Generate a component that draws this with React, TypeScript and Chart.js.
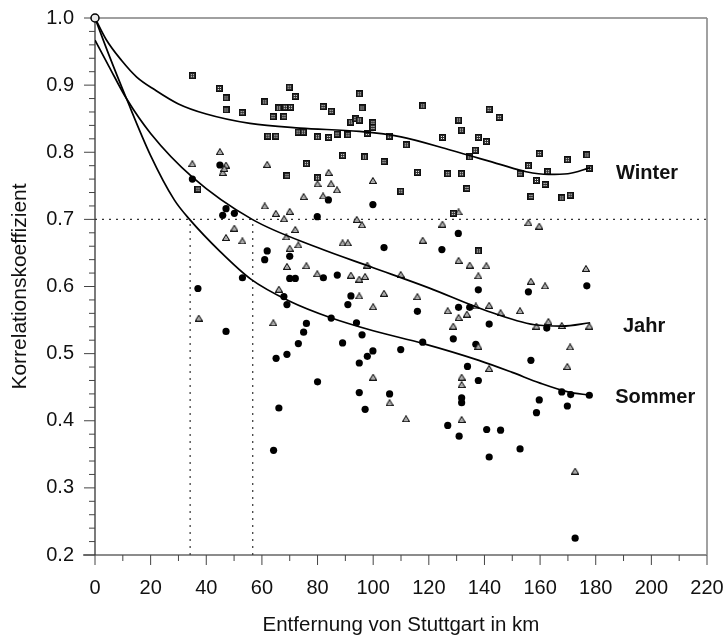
import React, { useEffect, useRef } from 'react';
import { Chart, registerables } from 'chart.js';

Chart.register(...registerables);

// ---- scatter data: distance from Stuttgart (km) and correlation coefficient ----
const winterKm = [35.0, 44.7, 47.1, 47.1, 52.9, 37.0, 69.8, 72.0, 61.0, 66.0, 68.4, 70.3, 64.0, 67.9, 82.0, 84.9, 95.0, 96.0, 91.9, 93.8, 95.0, 99.9, 99.9, 62.1, 65.0, 73.0, 74.9, 80.0, 84.0, 87.0, 90.9, 97.9, 105.8, 111.9, 117.8, 124.9, 130.7, 131.7, 137.8, 140.7, 141.7, 145.3, 136.7, 134.7, 89.0, 96.9, 103.9, 76.0, 69.0, 80.0, 115.9, 126.8, 131.7, 133.7, 109.9, 128.8, 159.7, 155.8, 152.8, 162.7, 158.7, 161.8, 156.7, 167.8, 170.8, 169.8, 176.8, 177.7, 137.8];
const winterR = [0.914, 0.895, 0.881, 0.863, 0.859, 0.745, 0.897, 0.883, 0.875, 0.866, 0.867, 0.867, 0.853, 0.853, 0.868, 0.861, 0.887, 0.866, 0.845, 0.850, 0.848, 0.844, 0.837, 0.824, 0.824, 0.830, 0.830, 0.823, 0.822, 0.827, 0.826, 0.828, 0.824, 0.811, 0.869, 0.822, 0.848, 0.833, 0.822, 0.816, 0.864, 0.852, 0.803, 0.793, 0.795, 0.793, 0.786, 0.783, 0.765, 0.762, 0.770, 0.768, 0.768, 0.746, 0.742, 0.709, 0.798, 0.780, 0.768, 0.771, 0.758, 0.752, 0.734, 0.732, 0.736, 0.789, 0.796, 0.776, 0.653];

const jahrKm = [35.0, 44.9, 47.1, 45.9, 46.5, 61.9, 84.0, 80.0, 84.9, 87.0, 99.9, 75.0, 82.0, 61.0, 65.0, 70.0, 68.0, 94.1, 130.7, 155.8, 159.7, 50.1, 47.1, 53.0, 37.3, 96.0, 72.0, 68.8, 73.1, 70.0, 89.0, 90.9, 117.8, 124.9, 69.0, 76.0, 79.9, 92.0, 95.0, 97.1, 97.9, 109.9, 66.1, 95.0, 103.9, 100.0, 115.9, 126.8, 130.7, 134.7, 140.7, 137.8, 136.9, 141.7, 133.7, 130.7, 128.8, 137.8, 141.7, 64.1, 100.0, 105.9, 131.8, 131.8, 111.8, 131.8, 176.5, 156.7, 161.8, 145.8, 152.8, 158.7, 163.0, 167.8, 177.7, 170.8, 169.8, 172.6];
const jahrR = [0.783, 0.801, 0.781, 0.770, 0.776, 0.782, 0.770, 0.753, 0.753, 0.744, 0.758, 0.734, 0.735, 0.720, 0.709, 0.712, 0.701, 0.700, 0.711, 0.695, 0.690, 0.687, 0.673, 0.668, 0.553, 0.692, 0.685, 0.674, 0.662, 0.657, 0.665, 0.665, 0.669, 0.693, 0.630, 0.631, 0.619, 0.617, 0.611, 0.615, 0.632, 0.618, 0.596, 0.586, 0.590, 0.570, 0.585, 0.564, 0.639, 0.632, 0.631, 0.616, 0.571, 0.572, 0.559, 0.554, 0.541, 0.511, 0.478, 0.546, 0.465, 0.427, 0.465, 0.454, 0.403, 0.402, 0.627, 0.608, 0.601, 0.561, 0.564, 0.541, 0.548, 0.542, 0.541, 0.510, 0.481, 0.325];

const sommerKm = [35.0, 44.9, 45.9, 47.1, 50.1, 53.0, 37.0, 47.1, 83.9, 99.9, 79.9, 130.6, 103.9, 124.7, 61.9, 61.0, 70.0, 70.0, 72.0, 82.1, 87.1, 137.8, 92.0, 90.9, 67.9, 69.0, 115.9, 130.7, 134.7, 141.7, 84.9, 94.0, 76.0, 75.0, 96.0, 73.1, 89.0, 117.8, 128.8, 136.9, 99.9, 109.9, 97.9, 95.0, 69.0, 65.1, 133.9, 137.8, 80.0, 95.0, 105.9, 97.1, 66.1, 131.8, 131.8, 176.8, 155.8, 162.4, 156.7, 167.8, 171.0, 177.7, 159.7, 169.8, 158.7, 140.8, 145.8, 152.8, 64.2, 126.8, 130.9, 141.7, 172.6];
const sommerR = [0.760, 0.781, 0.706, 0.716, 0.709, 0.613, 0.597, 0.533, 0.729, 0.722, 0.704, 0.679, 0.658, 0.655, 0.653, 0.640, 0.645, 0.612, 0.612, 0.613, 0.617, 0.595, 0.586, 0.573, 0.585, 0.573, 0.563, 0.569, 0.569, 0.544, 0.553, 0.546, 0.545, 0.532, 0.528, 0.515, 0.516, 0.517, 0.522, 0.514, 0.504, 0.506, 0.496, 0.486, 0.499, 0.493, 0.481, 0.460, 0.458, 0.442, 0.440, 0.417, 0.419, 0.434, 0.427, 0.601, 0.592, 0.538, 0.490, 0.443, 0.439, 0.438, 0.431, 0.422, 0.412, 0.387, 0.386, 0.358, 0.356, 0.393, 0.377, 0.346, 0.225];

// ---- fitted curves ----
const winterCurveKm = [0, 4, 9.5, 15, 21.5, 30, 40, 55.7, 73.7, 95, 110, 128, 145.6, 155, 163, 170, 178];
const winterCurveR = [1.0, 0.968, 0.937, 0.912, 0.893, 0.872, 0.857, 0.843, 0.836, 0.831, 0.823, 0.803, 0.782, 0.771, 0.767, 0.768, 0.777];
const jahrCurveKm = [0, 5, 11.3, 20, 35, 56.5, 80, 100, 120, 140, 158, 168, 178];
const jahrCurveR = [0.967, 0.928, 0.880, 0.828, 0.763, 0.700, 0.658, 0.628, 0.598, 0.565, 0.543, 0.541, 0.546];
const sommerCurveKm = [0, 5, 11.3, 20, 28.5, 34, 45, 56, 70, 85, 100, 118, 138, 150, 160, 170, 178];
const sommerCurveR = [1.0, 0.945, 0.880, 0.795, 0.729, 0.700, 0.652, 0.611, 0.578, 0.553, 0.534, 0.515, 0.490, 0.472, 0.456, 0.443, 0.438];

// ---- reference values ----
const threshold = 0.7;
const sommerCrossKm = 34.2;
const jahrCrossKm = 56.7;
const originKm = 0;
const originR = 1.0;

const curveNames = ['Winter', 'Jahr', 'Sommer'];
const xTicksMax = 220;
const yTickMin = 0.2;
const yTickMax = 1.0;

const toPts = (xs: number[], ys: number[]) => xs.map((x, i) => ({ x, y: ys[i] }));

function fontAvailable(name: string): boolean {
  const c = document.createElement('canvas').getContext('2d');
  if (!c) return false;
  const t = 'Entfernung von Stuttgart in km';
  c.font = '40px monospace';
  const w1 = c.measureText(t).width;
  c.font = `40px "${name}", monospace`;
  const w2 = c.measureText(t).width;
  return Math.abs(w1 - w2) > 1;
}

function makeSquare(): HTMLCanvasElement {
  const s = document.createElement('canvas');
  s.width = 7; s.height = 7;
  const g = s.getContext('2d')!;
  g.fillStyle = '#0e0e0e';
  g.fillRect(0, 0, 7, 7);
  g.fillStyle = '#2e2e2e';
  g.fillRect(1, 1, 5, 5);
  g.fillStyle = '#f4f4f4';
  [[2, 2], [4, 2], [2, 4], [4, 4]].forEach(([a, b]) => g.fillRect(a, b, 1, 1));
  return s;
}

function makeTriangle(): HTMLCanvasElement {
  const s = document.createElement('canvas');
  s.width = 8; s.height = 7;
  const g = s.getContext('2d')!;
  g.beginPath();
  g.moveTo(4, 0.7);
  g.lineTo(7.4, 6.4);
  g.lineTo(0.6, 6.4);
  g.closePath();
  g.fillStyle = '#ececec';
  g.fill();
  g.strokeStyle = '#161616';
  g.lineWidth = 1.1;
  g.stroke();
  g.fillStyle = '#555';
  g.fillRect(3.5, 3.5, 1, 1.5);
  return s;
}

export default function App() {
  const ref = useRef<HTMLCanvasElement>(null);

  useEffect(() => {
    if (!ref.current) return;
    const narrow = fontAvailable('Liberation Sans Narrow');
    const baseFamily = "'Liberation Sans', Arial, Helvetica, sans-serif";
    const xTitleFont = narrow
      ? { family: "'Liberation Sans Narrow', 'Liberation Sans', sans-serif", size: 25, lineHeight: 1 }
      : { family: baseFamily, size: 20.5, lineHeight: 1 };

    const square = makeSquare();
    const triangle = makeTriangle();

    const labelPos: Record<string, [number, number]> = {
      Winter: [187.3, 0.769],
      Jahr: [189.8, 0.541],
      Sommer: [187.0, 0.435],
    };

    const framePlugin = {
      id: 'frameTicks',
      beforeDatasetsDraw(chart: any) {
        const { ctx, chartArea: a, scales } = chart;
        const x = scales.x, y = scales.y;
        const line = (x1: number, y1: number, x2: number, y2: number) => {
          ctx.beginPath(); ctx.moveTo(x1, y1); ctx.lineTo(x2, y2); ctx.stroke();
        };
        ctx.save();
        ctx.strokeStyle = '#a0a0a0'; ctx.lineWidth = 2;
        line(a.left, a.top, a.right, a.top);
        ctx.strokeStyle = '#8a8a8a'; ctx.lineWidth = 1.6;
        line(a.right, a.top, a.right, a.bottom);
        ctx.strokeStyle = '#8c8c8c'; ctx.lineWidth = 2;
        line(a.left - 12, a.bottom, a.right, a.bottom);
        ctx.strokeStyle = '#333'; ctx.lineWidth = 1.3;
        line(a.left, a.top, a.left, a.bottom);
        ctx.lineWidth = 1;
        ctx.strokeStyle = '#444';
        const nY = Math.round((yTickMax - yTickMin) / 0.02);
        for (let i = 0; i <= nY; i++) {
          const p = y.getPixelForValue(yTickMin + i * 0.02);
          const major = i % 5 === 0;
          line(a.left - (major ? 11 : 6), p, a.left, p);
        }
        for (let k = 0; k <= xTicksMax; k += 10) {
          const p = x.getPixelForValue(k);
          const major = k % 20 === 0;
          line(p, a.bottom, p, a.bottom + (major ? 10 : 6));
        }
        ctx.restore();
      },
      afterDatasetsDraw(chart: any) {
        const { ctx, scales } = chart;
        ctx.save();
        ctx.fillStyle = '#111';
        ctx.font = "bold 20px 'Liberation Sans', Arial, sans-serif";
        ctx.textAlign = 'left';
        ctx.textBaseline = 'middle';
        curveNames.forEach((n) => {
          const [km, r] = labelPos[n];
          ctx.fillText(n, scales.x.getPixelForValue(km), scales.y.getPixelForValue(r));
        });
        ctx.restore();
      },
    };

    const curveStyle = {
      type: 'line' as const,
      showLine: true,
      pointRadius: 0,
      borderColor: '#000',
      borderWidth: 1.7,
      cubicInterpolationMode: 'monotone' as const,
      fill: false,
      order: 1,
    };
    const refStyle = {
      type: 'line' as const,
      showLine: true,
      pointRadius: 0,
      borderColor: '#333',
      borderWidth: 1.2,
      borderDash: [2, 5],
      tension: 0,
      fill: false,
      order: 3,
    };

    const chart = new Chart(ref.current, {
      type: 'scatter',
      data: {
        datasets: [
          { ...refStyle, label: 'ref07', data: [{ x: 0, y: threshold }, { x: xTicksMax, y: threshold }] },
          { ...refStyle, label: 'refS', data: [{ x: sommerCrossKm, y: yTickMin }, { x: sommerCrossKm, y: threshold }] },
          { ...refStyle, label: 'refJ', data: [{ x: jahrCrossKm, y: yTickMin }, { x: jahrCrossKm, y: threshold }] },
          {
            label: 'Winter',
            data: toPts(winterKm, winterR),
            pointStyle: square as any,
            pointRadius: 4,
            order: 2,
          },
          {
            label: 'Jahr',
            data: toPts(jahrKm, jahrR),
            pointStyle: triangle as any,
            pointRadius: 4,
            order: 2,
          },
          {
            label: 'Sommer',
            data: toPts(sommerKm, sommerR),
            pointStyle: 'circle',
            pointRadius: 3.6,
            backgroundColor: '#000',
            borderColor: '#000',
            borderWidth: 0,
            order: 2,
          },
          { ...curveStyle, label: 'WinterFit', data: toPts(winterCurveKm, winterCurveR) },
          { ...curveStyle, label: 'JahrFit', data: toPts(jahrCurveKm, jahrCurveR) },
          { ...curveStyle, label: 'SommerFit', data: toPts(sommerCurveKm, sommerCurveR) },
          {
            label: 'origin',
            data: [{ x: originKm, y: originR }],
            pointStyle: 'circle',
            pointRadius: 4,
            backgroundColor: '#e8e8e8',
            borderColor: '#000',
            borderWidth: 1.5,
            clip: false as any,
            order: 0,
          },
        ] as any,
      },
      options: {
        responsive: false,
        animation: false,
        layout: { padding: { top: 18, right: 18, left: 0, bottom: 0 } },
        plugins: { legend: { display: false }, tooltip: { enabled: false } },
        scales: {
          x: {
            type: 'linear',
            min: 0,
            max: xTicksMax,
            afterFit: (s: any) => { s.height = 82; s.paddingLeft = 0; s.paddingRight = 0; },
            grid: { display: false, drawTicks: false },
            border: { display: false },
            ticks: {
              stepSize: 20,
              padding: 21,
              color: '#111',
              font: { family: baseFamily, size: 20 },
              maxRotation: 0,
            },
            title: {
              display: true,
              text: 'Entfernung von Stuttgart in km',
              color: '#111',
              font: xTitleFont,
              padding: { top: 0, bottom: 1.5 },
            },
          },
          y: {
            type: 'linear',
            min: yTickMin,
            max: yTickMax,
            afterFit: (s: any) => { s.width = 95; s.paddingTop = 0; s.paddingBottom = 0; },
            grid: { display: false, drawTicks: false },
            border: { display: false },
            ticks: {
              stepSize: 0.1,
              padding: 21,
              color: '#111',
              font: { family: baseFamily, size: 20 },
              callback: (v: any) => Number(v).toFixed(1),
            },
            title: {
              display: true,
              text: 'Korrelationskoeffizient',
              color: '#111',
              font: { family: baseFamily, size: 21, lineHeight: 1.2 },
              padding: { top: 8, bottom: 0 },
            },
          },
        },
      } as any,
      plugins: [framePlugin],
    });

    return () => chart.destroy();
  }, []);

  return (
    <div style={{ position: 'absolute', left: 0, top: 0, width: 725, height: 637, background: '#fff' }}>
      <canvas ref={ref} width={725} height={637} style={{ width: 725, height: 637, display: 'block' }} />
    </div>
  );
}
